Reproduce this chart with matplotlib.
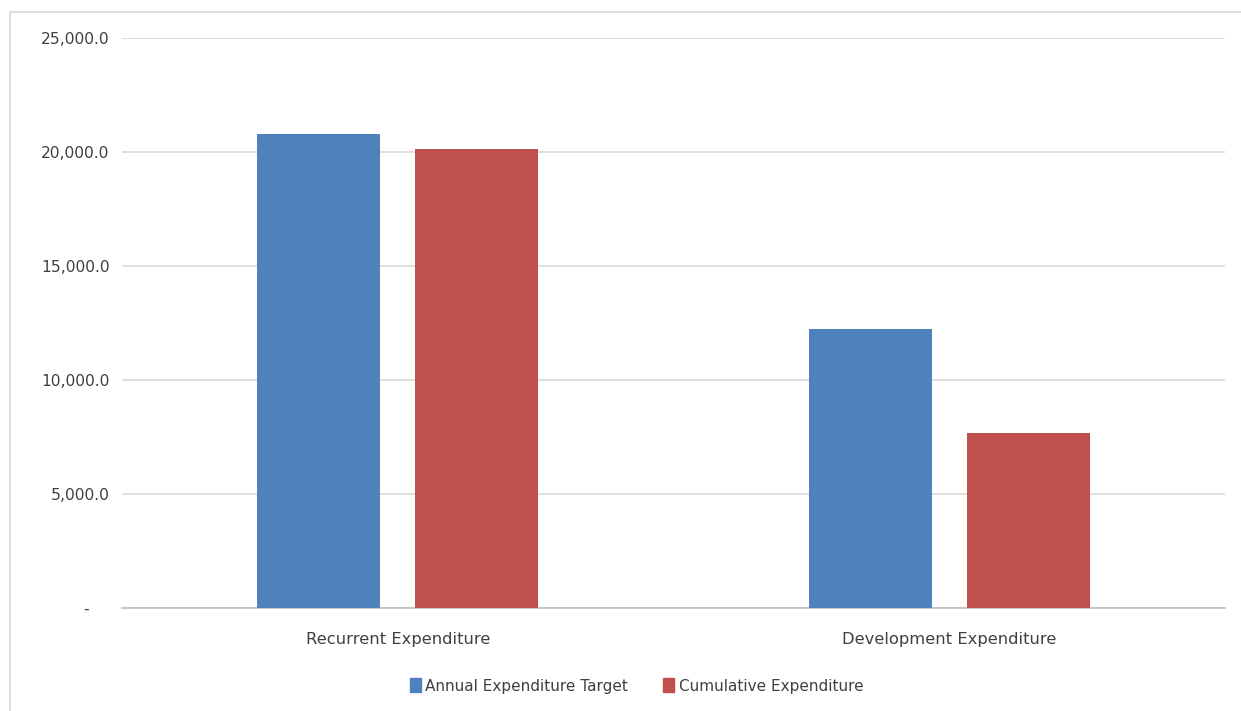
import matplotlib.pyplot as plt
import matplotlib.patches as mpatches
import numpy as np

# data
categories = ['Recurrent Expenditure', 'Development Expenditure']
annual_target = [20790, 12240]
cumulative = [20130, 7680]
series_names = ['Annual Expenditure Target', 'Cumulative Expenditure']
colors = ['#4F81BD', '#C0504D']

plt.rcParams['font.family'] = ['DejaVu Sans']

fig = plt.figure(figsize=(12.41, 7.11), dpi=100)
ax = fig.add_axes([0.0983, 0.1449, 0.8888, 0.8017])

x = np.arange(len(categories))
w = 0.223
off = 0.143
ax.bar(x - off, annual_target, w, color=colors[0], label=series_names[0], zorder=3)
ax.bar(x + off, cumulative, w, color=colors[1], label=series_names[1], zorder=3)

ax.set_xlim(-0.5, 1.5)
ax.set_ylim(0, 25000)
ax.set_yticks(np.arange(0, 25001, 5000))
ax.set_yticklabels(['-    '] + ['{:,.1f}'.format(v) for v in range(5000, 25001, 5000)])
ax.set_xticks(x)
ax.set_xticklabels(categories, fontsize=11.8)
ax.tick_params(axis='both', length=0, colors='#404040')
ax.tick_params(axis='y', labelsize=11.2, pad=9)
ax.tick_params(axis='x', pad=17)
ax.grid(axis='y', color='#D9D9D9', linewidth=1.2, zorder=0)
for s in ['top', 'right', 'left']:
    ax.spines[s].set_visible(False)
ax.spines['bottom'].set_color('#BFBFBF')
ax.spines['bottom'].set_linewidth(1.2)

# chart frame
frame = mpatches.Rectangle((10 / 1241, -0.5), 1.5, 0.5 + (711 - 12) / 711,
                           transform=fig.transFigure, fill=False,
                           edgecolor='#D9D9D9', linewidth=1.2)
fig.patches.append(frame)

handles = [mpatches.Patch(color=c) for c in colors]
fig.legend(handles, series_names, loc='center', bbox_to_anchor=(0.513, 1 - 686 / 711),
           ncol=2, frameon=False, fontsize=11, handlelength=0.7, handleheight=1.0,
           handletextpad=0.3, columnspacing=2.3, labelcolor='#404040')

fig.savefig('out.png', dpi=100)
